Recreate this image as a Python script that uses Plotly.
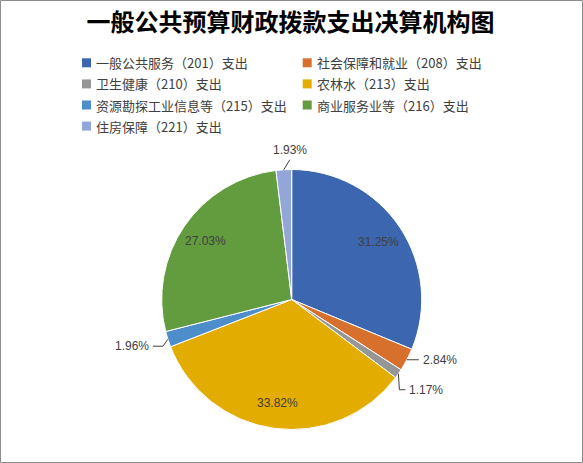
import math
import plotly.graph_objects as go

# ---- data ----
categories = [
    "一般公共服务（201）支出",
    "社会保障和就业（208）支出",
    "卫生健康（210）支出",
    "农林水（213）支出",
    "资源勘探工业信息等（215）支出",
    "商业服务业等（216）支出",
    "住房保障（221）支出",
]
values = [31.25, 2.84, 1.17, 33.82, 1.96, 27.03, 1.93]
title_text = "一般公共预算财政拨款支出决算机构图"

# ---- style ----
colors = ["#3C66AF", "#D6702C", "#969696", "#E3AC00", "#4D8ECA", "#639B3F", "#92A6D9"]
W, H = 583, 463
CX, CY, R = 291.7, 299.5, 130.0
TEXT_COLOR = "#404040"
CJK = "Noto Sans CJK SC"
NUM_FONT = "Liberation Sans"

# outside label geometry (leader line legs in px, text anchor)
outside = {
    6: dict(legs=[(6, -10)], anchor="bottom"),
    1: dict(legs=[(12, 0)], anchor="left"),
    2: dict(legs=[(1, 16), (6, 0)], anchor="left"),
    4: dict(legs=[(-5, 7), (-10, 0)], anchor="right"),
}
INSIDE_R = 0.8


def px(x):
    return x / W


def py(y):
    return 1 - y / H


fig = go.Figure()
fig.add_trace(go.Pie(
    labels=categories,
    values=values,
    sort=False,
    direction="clockwise",
    rotation=0,
    textinfo="none",
    marker=dict(colors=colors, line=dict(color="white", width=1)),
    domain=dict(x=[px(CX - R), px(CX + R)], y=[py(CY + R), py(CY - R)]),
    showlegend=False,
    hovertemplate="%{label}: %{value:.2f}%<extra></extra>",
))

annotations = []
shapes = []

total = sum(values)
cum = 0.0
for i, v in enumerate(values):
    mid = (cum + v / 2) / total * 2 * math.pi
    cum += v
    label = f"{v:.2f}%"
    sx, sy = math.sin(mid), -math.cos(mid)
    if i in outside:
        spec = outside[i]
        x, y = CX + R * sx, CY + R * sy
        path = f"M{px(x)},{py(y)}"
        for dx, dy in spec["legs"]:
            x += dx
            y += dy
            path += f" L{px(x)},{py(y)}"
        shapes.append(dict(type="path", xref="paper", yref="paper", path=path,
                           line=dict(color="#404040", width=1)))
        a = spec["anchor"]
        if a == "left":
            ax, ay, xa, ya = x + 3, y, "left", "middle"
        elif a == "right":
            ax, ay, xa, ya = x - 3, y, "right", "middle"
        else:
            ax, ay, xa, ya = x, y - 2, "center", "bottom"
        annotations.append(dict(x=px(ax), y=py(ay), xref="paper", yref="paper",
                                text=label, showarrow=False, xanchor=xa, yanchor=ya,
                                borderpad=0,
                                font=dict(family=NUM_FONT, size=12, color=TEXT_COLOR)))
    else:
        ax, ay = CX + INSIDE_R * R * sx, CY + INSIDE_R * R * sy
        annotations.append(dict(x=px(ax), y=py(ay), xref="paper", yref="paper",
                                text=label, showarrow=False, xanchor="center", yanchor="middle",
                                font=dict(family=NUM_FONT, size=12, color=TEXT_COLOR)))

# ---- legend (two columns) ----
LEG_COL_X = [86.5, 307.2]
LEG_ROW_Y0, LEG_ROW_DY = 62.8, 21.1
MK = 4.5
for i, (cat, col) in enumerate(zip(categories, colors)):
    c, r = i % 2, i // 2
    mx, my = LEG_COL_X[c], LEG_ROW_Y0 + r * LEG_ROW_DY
    shapes.append(dict(type="rect", xref="paper", yref="paper",
                       x0=px(mx - MK), x1=px(mx + MK), y0=py(my + MK), y1=py(my - MK),
                       fillcolor=col, line=dict(width=0)))
    annotations.append(dict(x=px(mx + 8.5), y=py(my), xref="paper", yref="paper",
                            text=cat, showarrow=False, xanchor="left", yanchor="middle",
                            borderpad=0,
                            font=dict(family=CJK, size=13, color=TEXT_COLOR)))

# border
shapes.append(dict(type="rect", xref="paper", yref="paper",
                   x0=px(0.5), x1=px(W - 0.5), y0=py(H - 0.5), y1=py(0.5),
                   line=dict(color="#8C8C8C", width=1), fillcolor="rgba(0,0,0,0)"))

fig.update_layout(
    width=W, height=H,
    margin=dict(l=0, r=0, t=0, b=0),
    paper_bgcolor="white",
    plot_bgcolor="white",
    title=dict(text=f"<b>{title_text}</b>", x=px(290.5), xanchor="center",
               y=py(22.5), yanchor="middle", xref="paper", yref="container",
               font=dict(family=CJK, size=24, color="#000000")),
    annotations=annotations,
    shapes=shapes,
    showlegend=False,
)

fig.write_html("out.html", config={"displayModeBar": False},
               post_script="document.body.style.margin='0';")
